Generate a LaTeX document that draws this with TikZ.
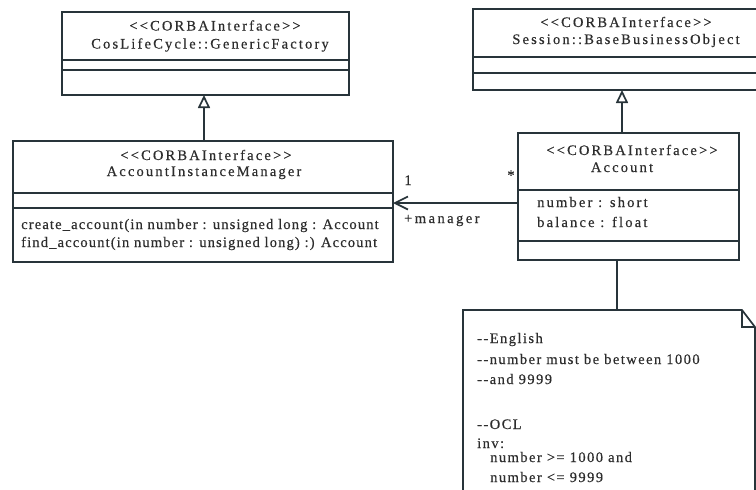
\documentclass[tikz,border=0pt]{standalone}
\usepackage{fontspec}
\setmainfont{Liberation Serif}
% letter-spaced serif faces for the different kinds of text
\newfontfamily\hdrfont[LetterSpace=15, FakeBold=0.4]{Liberation Serif}
\newfontfamily\opfont[LetterSpace=8, FakeBold=0.4]{Liberation Serif}
\newfontfamily\attrfont[LetterSpace=15, FakeBold=0.4]{Liberation Serif}
\newfontfamily\notefont[LetterSpace=10, FakeBold=0.4]{Liberation Serif}
\newfontfamily\rolefont[LetterSpace=17, FakeBold=0.4]{Liberation Serif}
\usetikzlibrary{arrows.meta}
\definecolor{umlline}{RGB}{40,52,58}
\definecolor{umltext}{RGB}{45,45,45}
\tikzset{
  umlbox/.style={draw=umlline, line width=1.7pt, fill=white, anchor=north west,
    inner sep=0pt, outer sep=0pt},
  sepline/.style={draw=umlline, line width=1.7pt},
  hdr/.style={anchor=base, inner sep=0pt, text=umltext, font=\hdrfont\fontsize{14.5}{17}\selectfont},
  member/.style={anchor=base west, inner sep=0pt, text=umltext, font=\opfont\fontsize{14.5}{17}\selectfont},
  attr/.style={anchor=base west, inner sep=0pt, text=umltext, font=\attrfont\fontsize{14.5}{17}\selectfont},
  notetext/.style={anchor=base west, inner sep=0pt, text=umltext, font=\notefont\fontsize{14.5}{17}\selectfont},
  endlabel/.style={inner sep=0pt, text=umltext, font=\rolefont\fontsize{14.5}{17}\selectfont},
  generalize/.style={draw=umlline, line width=1.7pt, -{Triangle[open, length=13pt, width=12pt, fill=white]}},
  navigate/.style={draw=umlline, line width=1.7pt, -{Straight Barb[length=13pt, width=13pt]}},
  anchorline/.style={draw=umlline, line width=1.7pt},
}
\begin{document}
\begin{tikzpicture}[x=1pt, y=-1pt]
\useasboundingbox (0,0) rectangle (756,490);
\clip (0,0) rectangle (756,490);

% CosLifeCycle::GenericFactory
\node[umlbox, minimum width=287pt, minimum height=83pt] (gf) at (62,12) {};
\draw[sepline] (62,60) -- (349,60) (62,70) -- (349,70);
\node[hdr] (gfst) at (215,30.5) {<<CORBAInterface>>};
\node[hdr] (gfname) at (210,48.5) {CosLifeCycle::GenericFactory};

% Session::BaseBusinessObject
\node[umlbox, minimum width=306pt, minimum height=81pt] (bbo) at (473,9) {};
\draw[sepline] (473,57) -- (779,57) (473,73) -- (779,73);
\node[hdr] (bbost) at (626,27) {<<CORBAInterface>>};
\node[hdr] (bboname) at (626,44) {Session::BaseBusinessObject};

% AccountInstanceManager
\node[umlbox, minimum width=380pt, minimum height=121pt] (aim) at (13,141) {};
\draw[sepline] (13,193) -- (393,193) (13,208) -- (393,208);
\node[hdr] (aimst) at (206,160) {<<CORBAInterface>>};
\node[hdr] (aimname) at (204,176) {AccountInstanceManager};
\node[member] (op1) at (21,229) {create\_account(in number : unsigned long : Account};
\node[member] (op2) at (21,247) {find\_account(in number : unsigned long) :) Account};

% Account
\node[umlbox, minimum width=221pt, minimum height=127pt] (acc) at (518,133) {};
\draw[sepline] (518,190) -- (739,190) (518,241) -- (739,241);
\node[hdr] (accst) at (632,155) {<<CORBAInterface>>};
\node[hdr] (accname) at (622,172) {Account};
\node[attr] (at1) at (537,207) {number : short};
\node[attr] (at2) at (537,227) {balance : float};

% Note with folded corner
\coordinate (nNW) at (463,310);
\coordinate (nfold) at (742,310);
\coordinate (nfoldb) at (742,327);
\coordinate (nE) at (755,327);
\draw[draw=umlline, line width=1.7pt, fill=white]
  (463,500) -- (nNW) -- (nfold) -- (nE) -- (755,500);
\draw[draw=umlline, line width=1.7pt] (nfold) -- (nfoldb) -- (nE);
\node[notetext] (n1) at (477,343) {-{}-English};
\node[notetext] (n2) at (477,364) {-{}-number must be between 1000};
\node[notetext] (n3) at (477,384) {-{}-and 9999};
\node[notetext] (n4) at (477,429) {-{}-OCL};
\node[notetext] (n5) at (477,448) {inv:};
\node[notetext] (n6) at (490,462) {number >= 1000 and};
\node[notetext] (n7) at (490,482) {number <= 9999};

% Connectors
\coordinate (gfbot) at (204,95);
\coordinate (aimtop) at (204,141);
\draw[generalize] (aimtop) -- (gfbot);
\coordinate (bbobot) at (622,90);
\coordinate (acctop) at (622,133);
\draw[generalize] (acctop) -- (bbobot);
\coordinate (accleft) at (518,203);
\coordinate (aimright) at (393,203);
\draw[navigate] (accleft) -- (aimright);
\coordinate (accbot) at (617,260);
\coordinate (notetop) at (617,310);
\draw[anchorline] (accbot) -- (notetop);

% Association end labels
\node[endlabel, anchor=base] (mult1) at (408,185) {1};
\node[endlabel, anchor=base] (multn) at (511,180) {*};
\node[endlabel, anchor=base west] (role) at (404,223) {+manager};
\end{tikzpicture}
\end{document}
